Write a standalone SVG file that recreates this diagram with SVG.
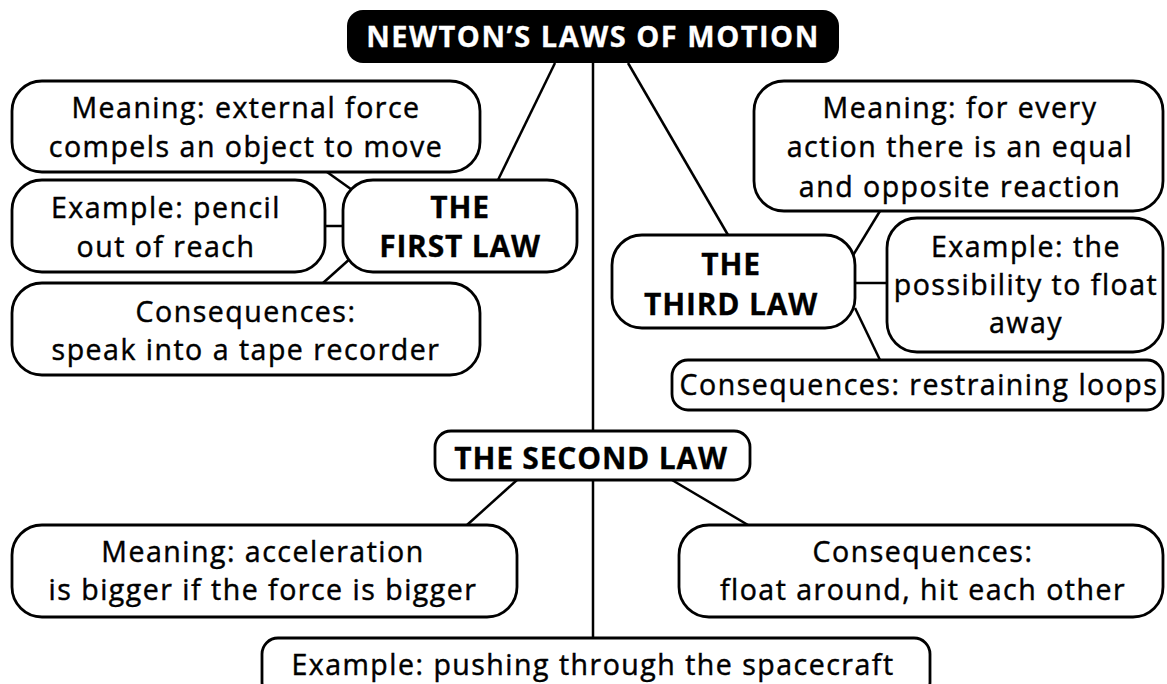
<svg xmlns="http://www.w3.org/2000/svg" width="1167" height="684" viewBox="0 0 1167 684">
<style>
.box{fill:#fff;stroke:#000;stroke-width:2.8}
.t{font-family:"Open Sans","Liberation Sans",sans-serif;font-size:28.5px;letter-spacing:1.5px;fill:#000;stroke:#000;stroke-width:0.45;text-anchor:middle}
.b{font-weight:bold;font-size:30px;letter-spacing:0.8px;stroke-width:0.3}
.w{fill:#fff;stroke:#fff;font-size:29px;letter-spacing:1.5px}
#connectors line{stroke:#000;stroke-width:2.5}
</style>
<rect width="1167" height="684" fill="#fff"/>
<g id="connectors">
<line x1="593" y1="63" x2="593" y2="638"/>
<line x1="555" y1="63" x2="498" y2="180"/>
<line x1="628" y1="63" x2="728" y2="235"/>
<line x1="327" y1="172" x2="355" y2="192"/>
<line x1="325" y1="226" x2="345" y2="226"/>
<line x1="352" y1="257" x2="323" y2="283"/>
<line x1="880" y1="211" x2="852" y2="257"/>
<line x1="855" y1="283" x2="887" y2="283"/>
<line x1="855" y1="308" x2="880" y2="360"/>
<line x1="517" y1="480" x2="467" y2="525"/>
<line x1="672" y1="480" x2="748" y2="525"/>
</g>
<g id="title">
<rect x="347" y="10" width="492" height="53" rx="16" fill="#000"/>
<text class="t b w" x="593" y="47">NEWTON’S LAWS OF MOTION</text>
</g>
<g id="first-law">
<rect class="box" x="343" y="180" width="234" height="92" rx="30"/>
<text class="t b" x="460" y="218">THE</text>
<text class="t b" x="460" y="257">FIRST LAW</text>
</g>
<g id="meaning1">
<rect class="box" x="12" y="81" width="468" height="91" rx="30"/>
<text class="t" x="246" y="118">Meaning: external force</text>
<text class="t" x="246" y="157">compels an object to move</text>
</g>
<g id="example1">
<rect class="box" x="12" y="180" width="313" height="92" rx="30"/>
<text class="t" x="166" y="218">Example: pencil</text>
<text class="t" x="166" y="257">out of reach</text>
</g>
<g id="consequences1">
<rect class="box" x="12" y="283" width="468" height="92" rx="30"/>
<text class="t" x="246" y="322">Consequences:</text>
<text class="t" x="246" y="360">speak into a tape recorder</text>
</g>
<g id="third-law">
<rect class="box" x="612" y="235" width="243" height="93" rx="30"/>
<text class="t b" x="731" y="275">THE</text>
<text class="t b" x="731" y="315">THIRD LAW</text>
</g>
<g id="meaning3">
<rect class="box" x="754" y="81" width="409" height="130" rx="30"/>
<text class="t" x="960" y="118">Meaning: for every</text>
<text class="t" x="960" y="157">action there is an equal</text>
<text class="t" x="960" y="197">and opposite reaction</text>
</g>
<g id="example3">
<rect class="box" x="887" y="218" width="276" height="134" rx="30"/>
<text class="t" x="1026" y="257">Example: the</text>
<text class="t" x="1026" y="295">possibility to float</text>
<text class="t" x="1026" y="333">away</text>
</g>
<g id="consequences3">
<rect class="box" x="672" y="360" width="491" height="50" rx="16"/>
<text class="t" x="919" y="395">Consequences: restraining loops</text>
</g>
<g id="second-law">
<rect class="box" x="435" y="431" width="315" height="49" rx="16"/>
<text class="t b" x="591" y="469">THE SECOND LAW</text>
</g>
<g id="meaning2">
<rect class="box" x="12" y="525" width="505" height="92" rx="30"/>
<text class="t" x="263" y="562">Meaning: acceleration</text>
<text class="t" x="263" y="600">is bigger if the force is bigger</text>
</g>
<g id="consequences2">
<rect class="box" x="679" y="525" width="484" height="92" rx="30"/>
<text class="t" x="923" y="562">Consequences:</text>
<text class="t" x="923" y="600">float around, hit each other</text>
</g>
<g id="example2">
<rect class="box" x="262" y="638" width="668" height="60" rx="16"/>
<text class="t" x="593" y="675">Example: pushing through the spacecraft</text>
</g>
</svg>
